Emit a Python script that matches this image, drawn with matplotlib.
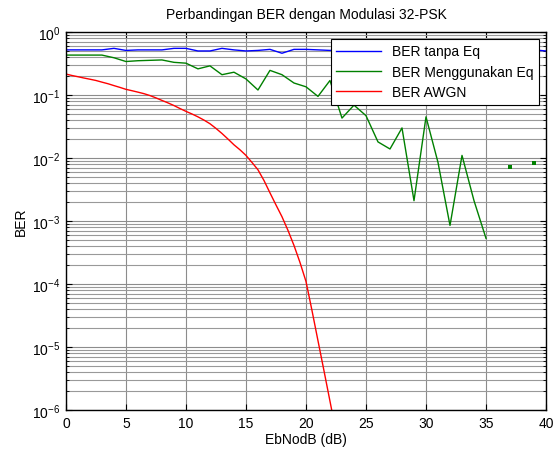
import numpy as np
import matplotlib
matplotlib.use("Agg")
import matplotlib.pyplot as plt
from matplotlib.ticker import LogLocator, NullFormatter, MultipleLocator

plt.rcParams['font.family'] = ['Liberation Sans', 'DejaVu Sans']
plt.rcParams['mathtext.fontset'] = 'custom'
plt.rcParams['mathtext.rm'] = 'Liberation Sans'

# Eb/N0 in dB, 1 dB steps
ebno = np.arange(0, 41)

ber_tanpa_eq = [0.52, 0.52, 0.52, 0.52, 0.55, 0.51, 0.52, 0.52, 0.52, 0.55,
                0.55, 0.50, 0.50, 0.55, 0.52, 0.50, 0.51, 0.53, 0.46, 0.53,
                0.53, 0.52, 0.51, 0.52, 0.50, 0.52, 0.51, 0.53, 0.50, 0.52,
                0.51, 0.50, 0.52, 0.51, 0.53, 0.50, 0.51, 0.52, 0.51, 0.52,
                0.50]

# nan = zero errors (not shown on log axis)
ber_eq = [0.43, 0.43, 0.43, 0.43, 0.39, 0.34, 0.35, 0.355, 0.36, 0.33,
          0.32, 0.26, 0.29, 0.21, 0.23, 0.18, 0.12, 0.246, 0.21, 0.155,
          0.135, 0.095, 0.17, 0.043, 0.069, 0.047, 0.018, 0.0139, 0.030, 0.0021,
          0.045, 0.0085, 0.00085, 0.011, 0.0021, 0.00053, np.nan, 0.0073, np.nan, 0.0083,
          np.nan]

# theoretical curve, 0.5 dB steps
ebno_awgn = np.arange(0, 23, 0.5)
ber_awgn = [0.215, 0.204, 0.195, 0.186, 0.178, 0.170, 0.160, 0.151, 0.141, 0.132,
            0.123, 0.117, 0.111, 0.105, 0.098, 0.090, 0.082, 0.075, 0.068, 0.061,
            0.055, 0.050, 0.045, 0.040, 0.035, 0.0295, 0.0245, 0.020, 0.0162, 0.0135,
            0.011, 0.0085, 0.0065, 0.0044, 0.0028, 0.0018, 0.00117, 0.00071, 0.00041, 0.00022,
            0.00011, 3.8e-5, 1.26e-5, 4.2e-6, 1.38e-6, 4.5e-7]

fig = plt.figure(figsize=(5.54, 4.52), dpi=100)
ax = fig.add_axes([0.119, 0.0907, 0.8666, 0.8363])

ax.semilogy(ebno, ber_tanpa_eq, color='#0000ff', lw=1, label='BER tanpa Eq')
ax.semilogy(ebno, ber_eq, color='#008000', lw=1, label='BER Menggunakan Eq')
ax.semilogy(ebno_awgn, ber_awgn, color='#ff0000', lw=1, label='BER AWGN')

# isolated points show up as dots
eq = np.array(ber_eq)
prev = np.r_[np.nan, eq[:-1]]
nxt = np.r_[eq[1:], np.nan]
iso = ~np.isnan(eq) & np.isnan(prev) & np.isnan(nxt)
ax.plot(ebno[iso], eq[iso], 's', color='#008000', ms=2.5, mew=0)

ax.set_xlim(0, 40)
ax.set_ylim(1e-6, 1)
ax.xaxis.set_major_locator(MultipleLocator(5))
ax.yaxis.set_major_locator(LogLocator(base=10, numticks=10))
ax.yaxis.set_minor_locator(LogLocator(base=10, subs=np.arange(2, 10), numticks=20))
ax.yaxis.set_minor_formatter(NullFormatter())

ax.grid(True, which='major', color='0.55', lw=0.8)
ax.grid(True, which='minor', axis='y', color='0.6', lw=0.8)
ax.tick_params(which='both', direction='in', top=True, right=True, labelsize=10)
ax.tick_params(which='major', length=4, pad=4)
ax.tick_params(which='minor', length=2.5)
for s in ax.spines.values():
    s.set_linewidth(1)

ax.set_title('Perbandingan BER dengan Modulasi 32-PSK', fontsize=10, pad=10)
ax.set_xlabel('EbNodB (dB)', fontsize=10, labelpad=2)
ax.set_ylabel('BER', fontsize=10, labelpad=3)

leg = ax.legend(loc='upper right', fontsize=10, fancybox=False, framealpha=1,
                edgecolor='black', handlelength=3.2, borderaxespad=0.5,
                labelspacing=0.45)
leg.get_frame().set_linewidth(0.8)

fig.savefig('out.png', dpi=100)
